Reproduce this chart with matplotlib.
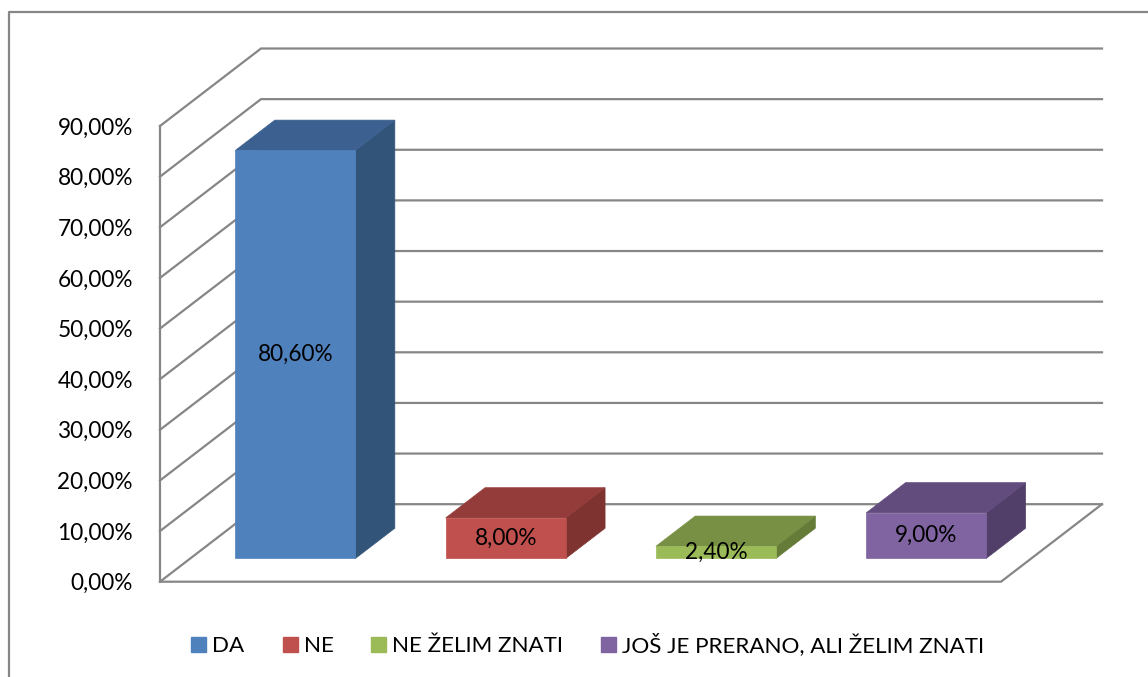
import matplotlib
matplotlib.use('Agg')
import matplotlib.pyplot as plt
from matplotlib.patches import Polygon, Patch
from matplotlib.lines import Line2D

# ---- data ----
categories = ['DA', 'NE', 'NE ŽELIM ZNATI', 'JOŠ JE PRERANO, ALI ŽELIM ZNATI']
values = [80.6, 8.0, 2.4, 9.0]
value_labels = ['80,60%', '8,00%', '2,40%', '9,00%']
tick_values = [0, 10, 20, 30, 40, 50, 60, 70, 80, 90]
tick_labels = ['0,00%', '10,00%', '20,00%', '30,00%', '40,00%', '50,00%',
               '60,00%', '70,00%', '80,00%', '90,00%']

# ---- styles ----
front_colors = ['#4F81BD', '#C0504D', '#9BBB59', '#8064A2']
top_colors = ['#3C6190', '#943C3A', '#779044', '#624C7D']
side_colors = ['#335479', '#7E3331', '#657C39', '#523F69']
grid_color = '#868686'
FONT = ['Lato', 'DejaVu Sans']
plt.rcParams['font.family'] = FONT

W, H = 1148, 677
fig = plt.figure(figsize=(W / 100, H / 100), dpi=100)
fig.patch.set_facecolor('white')
renderer = fig.canvas.get_renderer()


def text_width(s, size):
    t = fig.text(0, 0, s, fontsize=size)
    w = t.get_window_extent(renderer=renderer).width
    t.remove()
    return w


def fit(s, target_px, base=16.0):
    return base * target_px / text_width(s, base)


FS_NUM = fit('80,60%', 76)
FS_LEG = 0.5 * (fit(categories[3], 363) + fit(categories[2], 171))

# front plane of the plot area (pixels)
left_px, right_px, bottom_px, top_px = 160, 1001, 581.7, 126
ax = fig.add_axes([left_px / W, 1 - bottom_px / H,
                   (right_px - left_px) / W, (bottom_px - top_px) / H])
n = len(categories)
ax.set_xlim(0, n)
ax.set_ylim(0, 90)
for s in ax.spines.values():
    s.set_visible(False)
ax.set_xticks([])
ax.set_yticks(tick_values, tick_labels)
ax.tick_params(axis='y', length=0, pad=19.5, labelsize=FS_NUM)
ax.patch.set_alpha(0)

# oblique depth vector in data units
px_per_x = (right_px - left_px) / n
px_per_y = (bottom_px - top_px) / 90
DX = 101 / px_per_x
DY = 77.5 / px_per_y


def P(x, y, z):
    return (x + z * DX, y + z * DY)


lw = 1.6
# gridlines (back wall + left wall)
for t in tick_values:
    pts = [P(0, t, 0), P(0, t, 1), P(n, t, 1)]
    ax.add_line(Line2D([p[0] for p in pts], [p[1] for p in pts], color=grid_color,
                       lw=lw, clip_on=False, zorder=1, solid_joinstyle='miter'))
# y axis and floor
pts = [P(0, 90, 0), P(0, 0, 0), P(n, 0, 0), P(n, 0, 1)]
ax.add_line(Line2D([p[0] for p in pts], [p[1] for p in pts], color=grid_color,
                   lw=lw, clip_on=False, zorder=1, solid_joinstyle='miter'))

# bars
bw = 120 / px_per_x
z0, z1 = 0.30, 0.69
for i, v in enumerate(values):
    xl = i + 0.5 - bw / 2
    xr = i + 0.5 + bw / 2
    front = [P(xl, 0, z0), P(xr, 0, z0), P(xr, v, z0), P(xl, v, z0)]
    top = [P(xl, v, z0), P(xr, v, z0), P(xr, v, z1), P(xl, v, z1)]
    side = [P(xr, 0, z0), P(xr, 0, z1), P(xr, v, z1), P(xr, v, z0)]
    for poly, c in ((side, side_colors[i]), (top, top_colors[i]), (front, front_colors[i])):
        ax.add_patch(Polygon(poly, closed=True, facecolor=c, edgecolor=c, lw=0.5,
                             clip_on=False, zorder=3))
    cx, cy = P(i + 0.5, v / 2, z0)
    ax.text(cx, cy, value_labels[i], ha='center', va='center', fontsize=FS_NUM,
            color='black', zorder=5)

# legend (spacings given in pixels, converted to font-size units)
em = FS_LEG * 100 / 72
handles = [Patch(facecolor=c, edgecolor=c) for c in front_colors]
fig.legend(handles, categories, loc='center', ncol=4,
           bbox_to_anchor=(588 / W, 1 - 645 / H), frameon=False,
           fontsize=FS_LEG, handlelength=15 / em, handleheight=15 / em,
           handletextpad=6 / em, columnspacing=38 / em, borderpad=0)

# chart border
fig.add_artist(Line2D([9 / W, 9 / W, 1.0], [0.0, 1 - 11.5 / H, 1 - 11.5 / H],
                      transform=fig.transFigure, color='#878787', lw=1.6))

fig.savefig('out.png', dpi=100)
